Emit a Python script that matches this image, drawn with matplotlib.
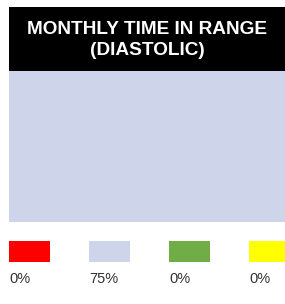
import matplotlib
matplotlib.use("Agg")
import matplotlib.pyplot as plt
from matplotlib.patches import Rectangle

plt.rcParams['font.family'] = ['Liberation Sans', 'DejaVu Sans']

title = 'MONTHLY TIME IN RANGE\n(DIASTOLIC)'
categories = ['Low', 'In range', 'Elevated', 'High']
values = [0, 75, 0, 0]
colors = ['#FF0000', '#CED4E9', '#70AD47', '#FFFF00']

W, H = 285, 304
fig = plt.figure(figsize=(W / 100, H / 100), dpi=100)

# header band
hax = fig.add_axes([9 / W, 1 - 71 / H, 1 - 9 / W, 64 / H])
hax.set_facecolor('black')
hax.set_xticks([])
hax.set_yticks([])
for s in hax.spines.values():
    s.set_visible(False)
hax.text(0.5, 0.49, title, color='white', fontsize=13.7, fontweight='bold',
         ha='center', va='center', linespacing=1.3, transform=hax.transAxes)

# stacked column
ax = fig.add_axes([9 / W, 1 - 222 / H, 1 - 9 / W, 151 / H])
bottom = 0
for v, c in zip(values, colors):
    ax.bar(0, v, bottom=bottom, width=1.0, color=c, linewidth=0)
    bottom += v
ax.set_xlim(-0.5, 0.5)
ax.set_ylim(0, max(sum(values), 1))
ax.axis('off')

# legend (pixel coords from top of figure)
lax = fig.add_axes([0, 0, 1, 1 - 230 / H])
lax.set_xlim(0, W)
lax.set_ylim(H, 230)
lax.axis('off')
for i, (v, c) in enumerate(zip(values, colors)):
    x0 = 9 + 80 * i
    lax.add_patch(Rectangle((x0, 241), 41, 21, color=c, linewidth=0, clip_on=True))
    lax.text(x0, 279, f'{v}%', color='#333333', fontsize=10.5,
             ha='left', va='center')

fig.savefig('out.png', dpi=100)
